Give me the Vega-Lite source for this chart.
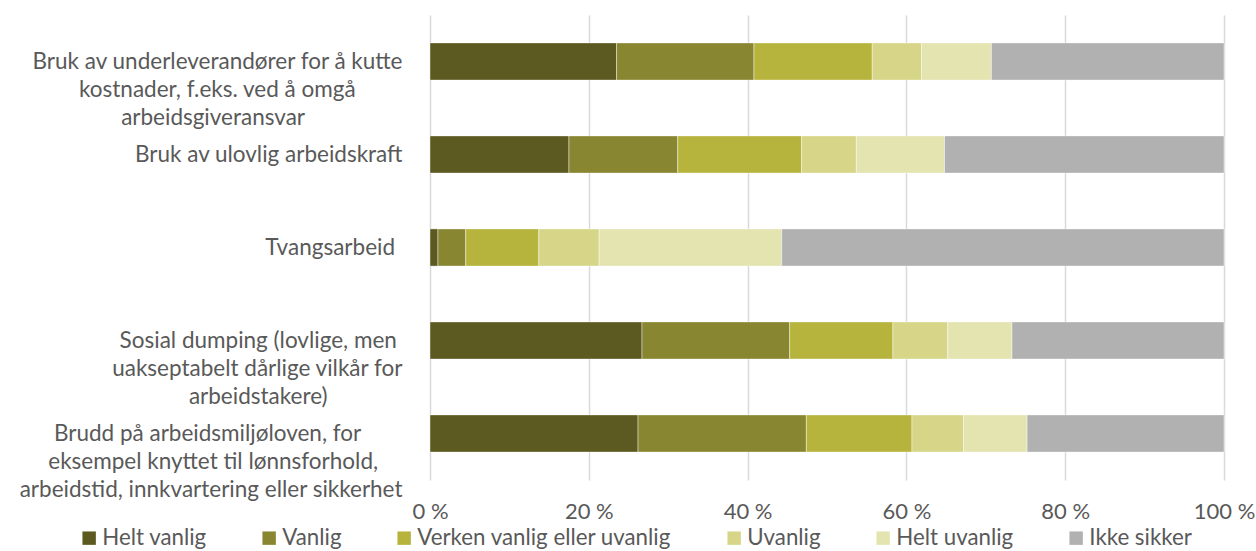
{
  "$schema": "https://vega.github.io/schema/vega-lite/v6.json",
  "width": 794,
  "height": 465,
  "autosize": {"type": "none"},
  "padding": {"left": 430, "top": 15, "right": 32, "bottom": 71},
  "background": "white",
  "config": {"view": {"stroke": null}, "font": "Lato"},
  "data": {"values": [
    {"item": "Bruk av underleverandører for å kutte|kostnader, f.eks. ved å omgå|arbeidsgiveransvar", "resp": "Helt vanlig", "rank": 1, "pct": 23.5},
    {"item": "Bruk av underleverandører for å kutte|kostnader, f.eks. ved å omgå|arbeidsgiveransvar", "resp": "Vanlig", "rank": 2, "pct": 17.3},
    {"item": "Bruk av underleverandører for å kutte|kostnader, f.eks. ved å omgå|arbeidsgiveransvar", "resp": "Verken vanlig eller uvanlig", "rank": 3, "pct": 14.9},
    {"item": "Bruk av underleverandører for å kutte|kostnader, f.eks. ved å omgå|arbeidsgiveransvar", "resp": "Uvanlig", "rank": 4, "pct": 6.2},
    {"item": "Bruk av underleverandører for å kutte|kostnader, f.eks. ved å omgå|arbeidsgiveransvar", "resp": "Helt uvanlig", "rank": 5, "pct": 8.8},
    {"item": "Bruk av underleverandører for å kutte|kostnader, f.eks. ved å omgå|arbeidsgiveransvar", "resp": "Ikke sikker", "rank": 6, "pct": 29.3},
    {"item": "Bruk av ulovlig arbeidskraft", "resp": "Helt vanlig", "rank": 1, "pct": 17.5},
    {"item": "Bruk av ulovlig arbeidskraft", "resp": "Vanlig", "rank": 2, "pct": 13.7},
    {"item": "Bruk av ulovlig arbeidskraft", "resp": "Verken vanlig eller uvanlig", "rank": 3, "pct": 15.6},
    {"item": "Bruk av ulovlig arbeidskraft", "resp": "Uvanlig", "rank": 4, "pct": 6.9},
    {"item": "Bruk av ulovlig arbeidskraft", "resp": "Helt uvanlig", "rank": 5, "pct": 11.1},
    {"item": "Bruk av ulovlig arbeidskraft", "resp": "Ikke sikker", "rank": 6, "pct": 35.2},
    {"item": "Tvangsarbeid", "resp": "Helt vanlig", "rank": 1, "pct": 1.0},
    {"item": "Tvangsarbeid", "resp": "Vanlig", "rank": 2, "pct": 3.5},
    {"item": "Tvangsarbeid", "resp": "Verken vanlig eller uvanlig", "rank": 3, "pct": 9.2},
    {"item": "Tvangsarbeid", "resp": "Uvanlig", "rank": 4, "pct": 7.6},
    {"item": "Tvangsarbeid", "resp": "Helt uvanlig", "rank": 5, "pct": 23.0},
    {"item": "Tvangsarbeid", "resp": "Ikke sikker", "rank": 6, "pct": 55.7},
    {"item": "Sosial dumping (lovlige, men|uakseptabelt dårlige vilkår for|arbeidstakere)", "resp": "Helt vanlig", "rank": 1, "pct": 26.7},
    {"item": "Sosial dumping (lovlige, men|uakseptabelt dårlige vilkår for|arbeidstakere)", "resp": "Vanlig", "rank": 2, "pct": 18.6},
    {"item": "Sosial dumping (lovlige, men|uakseptabelt dårlige vilkår for|arbeidstakere)", "resp": "Verken vanlig eller uvanlig", "rank": 3, "pct": 13.0},
    {"item": "Sosial dumping (lovlige, men|uakseptabelt dårlige vilkår for|arbeidstakere)", "resp": "Uvanlig", "rank": 4, "pct": 6.9},
    {"item": "Sosial dumping (lovlige, men|uakseptabelt dårlige vilkår for|arbeidstakere)", "resp": "Helt uvanlig", "rank": 5, "pct": 8.1},
    {"item": "Sosial dumping (lovlige, men|uakseptabelt dårlige vilkår for|arbeidstakere)", "resp": "Ikke sikker", "rank": 6, "pct": 26.7},
    {"item": "Brudd på arbeidsmiljøloven, for|eksempel knyttet til lønnsforhold,|arbeidstid, innkvartering eller sikkerhet", "resp": "Helt vanlig", "rank": 1, "pct": 26.2},
    {"item": "Brudd på arbeidsmiljøloven, for|eksempel knyttet til lønnsforhold,|arbeidstid, innkvartering eller sikkerhet", "resp": "Vanlig", "rank": 2, "pct": 21.2},
    {"item": "Brudd på arbeidsmiljøloven, for|eksempel knyttet til lønnsforhold,|arbeidstid, innkvartering eller sikkerhet", "resp": "Verken vanlig eller uvanlig", "rank": 3, "pct": 13.3},
    {"item": "Brudd på arbeidsmiljøloven, for|eksempel knyttet til lønnsforhold,|arbeidstid, innkvartering eller sikkerhet", "resp": "Uvanlig", "rank": 4, "pct": 6.5},
    {"item": "Brudd på arbeidsmiljøloven, for|eksempel knyttet til lønnsforhold,|arbeidstid, innkvartering eller sikkerhet", "resp": "Helt uvanlig", "rank": 5, "pct": 8.0},
    {"item": "Brudd på arbeidsmiljøloven, for|eksempel knyttet til lønnsforhold,|arbeidstid, innkvartering eller sikkerhet", "resp": "Ikke sikker", "rank": 6, "pct": 24.8}
  ]},
  "mark": {"type": "bar", "stroke": "white", "strokeWidth": 0.6, "strokeOpacity": 0.7},
  "encoding": {
    "y": {
      "field": "item", "type": "nominal", "sort": null,
      "scale": {"paddingInner": 0.6, "paddingOuter": 0.3},
      "axis": {
        "title": null, "domain": false, "ticks": false, "grid": false,
        "labelExpr": "indexof(datum.label, 'underleverand') >= 0 ? [split(datum.label, '|')[0], split(datum.label, '|')[1] + '\u2003\u2003\u2004\u2005\u2060', split(datum.label, '|')[2] + '\u2003\u2003\u2003\u2003\u2003\u2004\u2005\u2060'] : indexof(datum.label, 'Sosial') >= 0 ? [split(datum.label, '|')[0] + '\u2005\u2060', split(datum.label, '|')[1], split(datum.label, '|')[2] + '\u2003\u2003\u2003\u2003\u2004\u2060'] : indexof(datum.label, 'Brudd') >= 0 ? [split(datum.label, '|')[0] + '\u2003\u2003\u2004\u2060', split(datum.label, '|')[1] + '\u2003\u2004\u2060', split(datum.label, '|')[2]] : indexof(datum.label, 'Tvangs') >= 0 ? datum.label + '\u2004\u2060' : datum.label",
        "labelAlign": "right", "labelBaseline": "middle", "labelPadding": 28,
        "labelFontSize": 22.5, "labelColor": "#595959", "labelLineHeight": 28, "labelLimit": 0
      }
    },
    "x": {
      "field": "pct", "type": "quantitative", "stack": "zero",
      "scale": {"domain": [0, 100], "nice": false},
      "axis": {
        "title": null, "values": [0, 20, 40, 60, 80, 100],
        "labelExpr": "datum.value + ' %'",
        "domain": false, "ticks": false, "grid": true,
        "gridColor": "#D9D9D9", "gridWidth": 1.5,
        "labelPadding": 21, "labelFontSize": 22, "labelColor": "#595959", "labelFlush": false
      }
    },
    "color": {
      "field": "resp", "type": "nominal",
      "scale": {
        "domain": ["Helt vanlig", "Vanlig", "Verken vanlig eller uvanlig", "Uvanlig", "Helt uvanlig", "Ikke sikker"],
        "range": ["#5C5A20", "#898631", "#B7B43E", "#D7D688", "#E4E4B0", "#B1B1B1"]
      },
      "legend": {
        "title": null, "orient": "none", "legendX": -352, "legendY": 512,
        "direction": "horizontal", "columns": 6, "gridAlign": "none", "columnPadding": 51,
        "symbolType": "square", "symbolSize": 180, "symbolStrokeWidth": 0,
        "labelFontSize": 22.3, "labelColor": "#595959", "labelOffset": 2, "labelLimit": 0
      }
    },
    "order": {"field": "rank", "type": "quantitative"}
  }
}
